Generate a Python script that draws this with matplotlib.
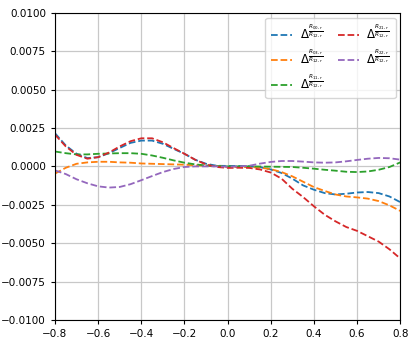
import matplotlib
matplotlib.use('Agg')
import matplotlib.pyplot as plt

# x positions (step 0.05)
x = [-0.8, -0.75, -0.7, -0.65, -0.6, -0.55, -0.5, -0.45, -0.4, -0.35, -0.3, -0.25, -0.2, -0.15, -0.1, -0.05,
     0.0, 0.05, 0.1, 0.15, 0.2, 0.25, 0.3, 0.35, 0.4, 0.45, 0.5, 0.55, 0.6, 0.65, 0.7, 0.75, 0.8]

d00 = [0.00216, 0.00136, 0.00082, 0.00054, 0.00060, 0.00086, 0.00120, 0.00153, 0.00168, 0.00168, 0.00147,
       0.00114, 0.00082, 0.00043, 0.00017, 0.00004,
       0.00003, 0.00003, 0.00001, -0.00005, -0.00020, -0.00043, -0.00080, -0.00124, -0.00152, -0.00174,
       -0.00183, -0.00178, -0.00170, -0.00167, -0.00174, -0.00196, -0.00233]
d03 = [-0.00047, -0.00009, 0.00017, 0.00026, 0.00030, 0.00030, 0.00026, 0.00024, 0.00019, 0.00017, 0.00015,
       0.00013, 0.00011, 0.00007, 0.00004, 0.00002,
       -0.00004, -0.00004, -0.00004, -0.00008, -0.00018, -0.00037, -0.00065, -0.00100, -0.00135, -0.00160,
       -0.00183, -0.00196, -0.00202, -0.00210, -0.00226, -0.00254, -0.00290]
d11 = [0.00097, 0.00086, 0.00078, 0.00078, 0.00082, 0.00084, 0.00086, 0.00086, 0.00082, 0.00071, 0.00056,
       0.00039, 0.00024, 0.00013, 0.00006, 0.00002,
       0.0, 0.0, 0.0, -0.00001, -0.00002, -0.00003, -0.00004, -0.00009, -0.00015, -0.00022,
       -0.00028, -0.00035, -0.00037, -0.00033, -0.00022, -0.00004, 0.00026]
d21 = [0.00207, 0.00130, 0.00075, 0.00050, 0.00060, 0.00090, 0.00130, 0.00164, 0.00183, 0.00183, 0.00157,
       0.00119, 0.00082, 0.00043, 0.00013, -0.00004,
       -0.00010, -0.00009, -0.00010, -0.00020, -0.00040, -0.00080, -0.00146, -0.00200, -0.00260, -0.00315,
       -0.00358, -0.00395, -0.00420, -0.00455, -0.00490, -0.00540, -0.00600]
d22 = [-0.00026, -0.00050, -0.00084, -0.00110, -0.00130, -0.00138, -0.00134, -0.00116, -0.00090, -0.00063,
       -0.00037, -0.00017, -0.00004, 0.0, 0.0, 0.0,
       -0.00002, 0.0, 0.00004, 0.00018, 0.00029, 0.00035, 0.00035, 0.00031, 0.00026, 0.00024,
       0.00026, 0.00033, 0.00042, 0.00050, 0.00055, 0.00053, 0.00044]

series = [d00, d03, d11, d21, d22]
labels = [r'$\Delta^{\frac{R_{00,r}}{R_{12,r}}}$',
          r'$\Delta^{\frac{R_{03,r}}{R_{12,r}}}$',
          r'$\Delta^{\frac{R_{11,r}}{R_{12,r}}}$',
          r'$\Delta^{\frac{R_{21,r}}{R_{12,r}}}$',
          r'$\Delta^{\frac{R_{22,r}}{R_{12,r}}}$']

fig = plt.figure(figsize=(4.15, 3.47), dpi=100)
ax = fig.add_axes([0.1325, 0.078, 0.832, 0.885])

for y, lab in zip(series, labels):
    ax.plot(x, y, linestyle='--', linewidth=1.3, label=lab)

ax.set_xlim(-0.8, 0.8)
ax.set_ylim(-0.01, 0.01)
ax.set_xticks([-0.8, -0.6, -0.4, -0.2, 0.0, 0.2, 0.4, 0.6, 0.8])
ax.set_yticks([-0.01, -0.0075, -0.005, -0.0025, 0.0, 0.0025, 0.005, 0.0075, 0.01])
ax.set_yticklabels(['\u22120.0100', '\u22120.0075', '\u22120.0050', '\u22120.0025', '0.0000',
                    '0.0025', '0.0050', '0.0075', '0.0100'])
ax.tick_params(labelsize=7.5, length=3)
ax.grid(True, color='#c8c8c8', linewidth=0.9)
ax.legend(loc='upper right', ncol=2, fontsize=8.5, handlelength=1.8, handletextpad=0.6,
          columnspacing=1.3, borderpad=0.5, labelspacing=0.55, borderaxespad=0.4)

fig.savefig('out.png', dpi=100)
